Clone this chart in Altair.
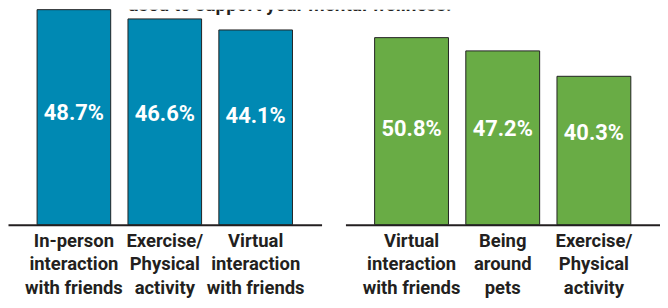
import altair as alt
import pandas as pd

# ---- data ----
left_categories = ["In-person\ninteraction\nwith friends", "Exercise/\nPhysical\nactivity", "Virtual\ninteraction\nwith friends"]
left_values = [48.7, 46.6, 44.1]
left_label_pos = [25.2, 25.1, 24.5]

right_categories = ["Virtual\ninteraction\nwith friends", "Being\naround\npets", "Exercise/\nPhysical\nactivity"]
right_values = [50.8, 47.2, 40.3]
right_label_pos = [25.9, 25.9, 24.9]

title_text = "used to support your mental wellness."

FONT = "Roboto"
INK = "#231F20"


def panel(cats, vals, pos, color, x_range, y_max):
    df = pd.DataFrame({
        "cat": cats,
        "value": vals,
        "pos": pos,
        "label": [f"{v:.1f}%" for v in vals],
    })
    base = alt.Chart(df)
    x = alt.X(
        "cat:N", sort=cats, title=None,
        scale=alt.Scale(range=x_range, paddingInner=0.19, paddingOuter=0.32),
        axis=alt.Axis(
            orient="bottom", labelExpr="split(datum.label, '\\n')",
            labelAngle=0, ticks=False, labelFont=FONT, labelFontSize=18.5,
            labelFontWeight="bold", labelColor=INK, labelLineHeight=23.5,
            labelPadding=7, domainColor=INK, domainWidth=2, labelLimit=200,
        ),
    )
    bars = base.mark_bar(color=color, stroke="#222222", strokeWidth=1).encode(
        x=x,
        y=alt.Y("value:Q", scale=alt.Scale(domain=[0, y_max], nice=False), axis=None),
    )
    text = base.mark_text(
        color="white", font=FONT, fontSize=22, fontWeight="bold", baseline="middle"
    ).encode(
        x=x,
        y=alt.Y("pos:Q", axis=None),
        text="label:N",
    )
    return alt.layer(bars, text)


left = panel(left_categories, left_values, left_label_pos, "#0089B3", [0, 315], 48.7)
right = panel(right_categories, right_values, right_label_pos, "#69AC45", [339, 655], 58.4)

title = alt.Chart(pd.DataFrame({"t": [title_text]})).mark_text(
    clip=True, font=FONT, fontSize=19, fontWeight="bold", color=INK,
    baseline="alphabetic", align="center",
).encode(x=alt.value(283), y=alt.value(1), text="t:N")

chart = (
    alt.layer(left, right, title)
    .resolve_scale(x="independent", y="independent")
    .properties(width=655, height=216, padding=0, background="white")
    .configure_view(stroke=None)
)

chart.save("out.html", embed_options={"renderer": "svg", "actions": False})
